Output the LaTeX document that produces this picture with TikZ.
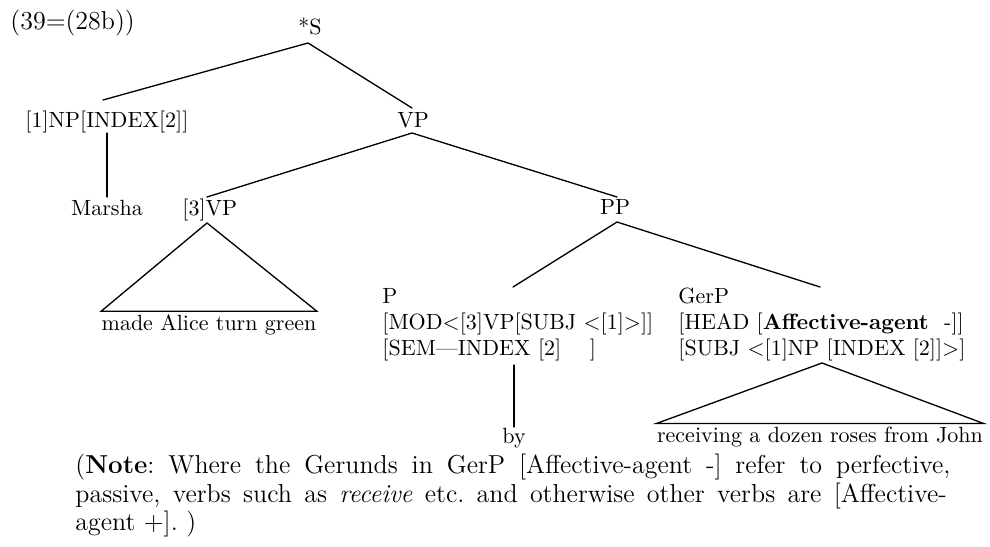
\documentclass[tikz,border=0pt]{standalone}
\usepackage{fontspec}
\frenchspacing
\begin{document}
\begin{tikzpicture}[x=0.4545pt,y=-0.4545pt,
  lab/.style={inner sep=0pt,font=\fontsize{10}{12}\selectfont},
  big/.style={inner sep=0pt,font=\fontsize{11.8}{13}\selectfont},
  edge/.style={line width=0.6pt},
  line cap=round]
\useasboundingbox (0,0) rectangle (990,547);

% example number
\node[big,anchor=base west] (num) at (10,30) {(39=(28b))};

% tree labels
\node[lab,anchor=base] (S) at (310,35) {*S};
\node[lab,anchor=base west] (NP) at (25,128) {[1]NP[INDEX[2]]};
\node[lab,anchor=base] (VP) at (413,128) {VP};
\node[lab,anchor=base] (Marsha) at (107,216) {Marsha};
\node[lab,anchor=base west] (VP3) at (182,216) {[3]VP};
\node[lab,anchor=base] (PP) at (615,215) {PP};

% P block
\node[lab,anchor=base west] (P) at (382,303) {P};
\node[lab,anchor=base west] (Pmod) at (382,329) {[MOD<[3]VP[SUBJ <[1]>]]};
\node[lab,anchor=base west] (Psem) at (382,355) {[SEM---INDEX [2]\hspace*{13pt}]};
\node[lab,anchor=base] (by) at (514,443) {by};

% GerP block
\node[lab,anchor=base west] (GerP) at (678,303) {GerP};
\node[lab,anchor=base west] (Ghead) at (678,329) {[HEAD [\textbf{Affective-agent}\hspace*{7pt}-]]};
\node[lab,anchor=base west] (Gsubj) at (678,355) {[SUBJ <[1]NP [INDEX [2]]>]};

% terminal strings under triangles
\node[lab,anchor=base,inner ysep=1.2pt] (mag) at (209,330) {made Alice turn green};
\node[lab,anchor=base,inner ysep=1.2pt] (rec) at (820,442) {receiving a dozen roses from John};

% attachment points of the branches
\coordinate (S-foot) at (308,43);
\coordinate (NP-top) at (103,100);
\coordinate (VP-top) at (412,108);
\coordinate (NP-foot) at (107,133);
\coordinate (Marsha-top) at (107,197);
\coordinate (VP-foot) at (412,133);
\coordinate (VP3-top) at (207,197);
\coordinate (PP-top) at (617,197);
\coordinate (VP3-foot) at (207,223);
\coordinate (PP-foot) at (617,222);
\coordinate (P-top) at (513,287);
\coordinate (GerP-top) at (820,287);
\coordinate (P-foot) at (514,365);
\coordinate (by-top) at (514,427);
\coordinate (GerP-foot) at (822,363);

% branches
\draw[edge] (NP-top) -- (S-foot) -- (VP-top);
\draw[edge] (NP-foot) -- (Marsha-top);
\draw[edge] (VP3-top) -- (VP-foot) -- (PP-top);
\draw[edge] (P-top) -- (PP-foot) -- (GerP-top);
\draw[edge] (P-foot) -- (by-top);

% triangles
\draw[edge] (VP3-foot) -- (mag.north west) -- (mag.north east) -- cycle;
\draw[edge] (GerP-foot) -- (rec.north west) -- (rec.north east) -- cycle;

% note, set as a justified paragraph
\node[big,anchor=base west] (note1) at (75,473) {\makebox[397.7pt][s]{(\textbf{Note}: Where the Gerunds in GerP [Affective-agent -] refer to perfective,}};
\node[big,anchor=base west] (note2) at (75,502) {\makebox[396pt][s]{passive, verbs such as \textit{receive} etc. and otherwise other verbs are [Affective-}};
\node[big,anchor=base west] (note3) at (75,530) {agent +]. )};
\end{tikzpicture}
\end{document}
